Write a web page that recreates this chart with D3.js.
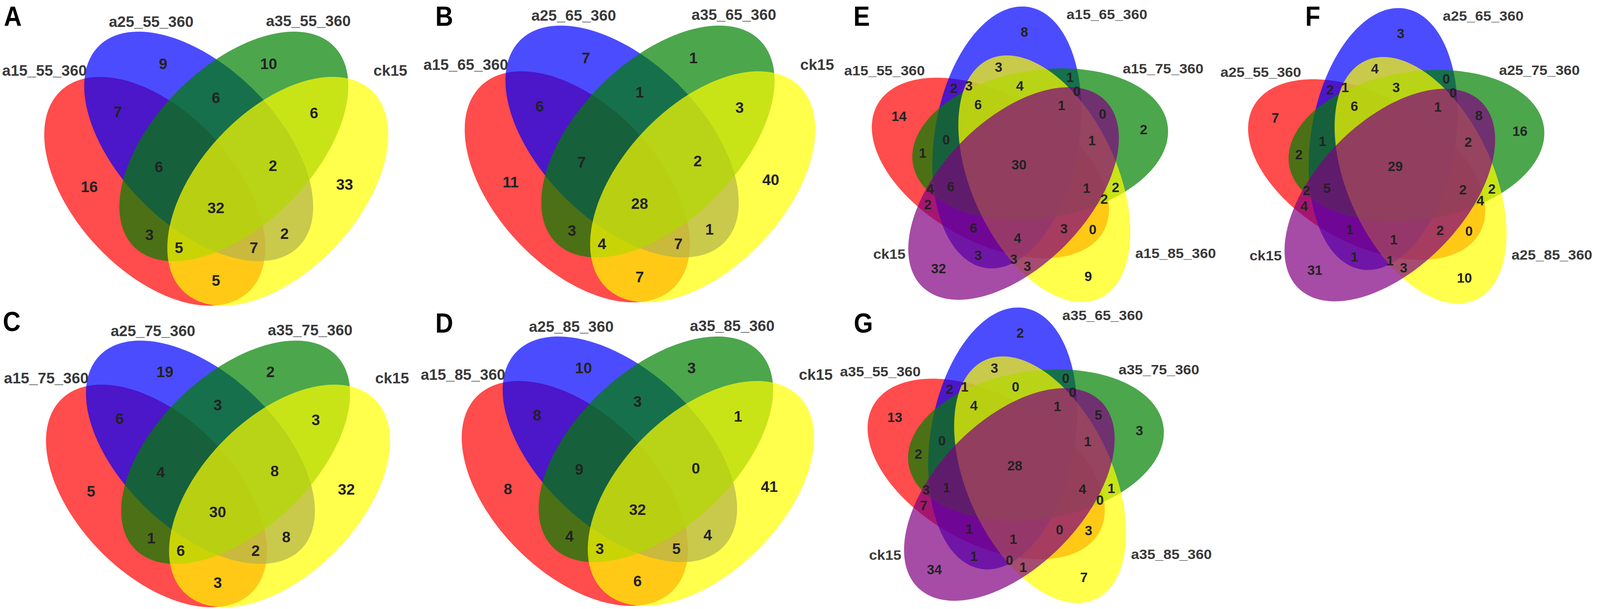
<!DOCTYPE html>
<html>
<head>
<meta charset="utf-8">
<script src="https://cdn.jsdelivr.net/npm/d3@7/dist/d3.min.js"></script>
<style>
  html, body { margin: 0; padding: 0; background: #fff; overflow: hidden; }
  svg { display: block; }
  text { font-family: "Liberation Sans", Arial, sans-serif; }
</style>
</head>
<body>
<svg id="fig"></svg>
<script>
// ---- data -------------------------------------------------------------
// 4-set regions, set order: 0 red, 1 blue, 2 green, 3 yellow
var quadKeys = ["0","1","2","3","01","12","23","03","02","13","012","123","023","013","0123"];
var valuesA = [16, 9, 10, 33, 7, 6, 6, 5, 3, 2, 6, 2, 5, 7, 32];
var valuesB = [11, 7, 1, 40, 6, 1, 3, 7, 3, 1, 7, 2, 4, 7, 28];
var valuesC = [5, 19, 2, 32, 6, 3, 3, 3, 1, 8, 4, 8, 6, 2, 30];
var valuesD = [8, 10, 3, 41, 8, 3, 1, 6, 4, 4, 9, 0, 3, 5, 32];

var setsA = ["a15_55_360", "a25_55_360", "a35_55_360", "ck15"];
var setsB = ["a15_65_360", "a25_65_360", "a35_65_360", "ck15"];
var setsC = ["a15_75_360", "a25_75_360", "a35_75_360", "ck15"];
var setsD = ["a15_85_360", "a25_85_360", "a35_85_360", "ck15"];

// 5-set regions, set order: 0 red, 1 blue, 2 green, 3 yellow, 4 purple
var quintKeys = ["0","1","2","3","4",
  "01","12","23","34","04",
  "02","13","24","03","14",
  "123","234","034","014","012",
  "013","124","023","134","024",
  "0123","1234","0234","0134","0124",
  "01234"];
var valuesE = [14, 8, 2, 9, 32,  2, 1, 2, 3, 2,  1, 3, 0, 0, 3,  4, 1, 3, 6, 0,  3, 0, 2, 3, 4,  6, 1, 1, 4, 6,  30];
var valuesF = [7, 3, 16, 10, 31,  2, 0, 2, 3, 4,  2, 4, 8, 0, 1,  3, 2, 2, 1, 1,  1, 0, 4, 1, 2,  6, 1, 2, 1, 5,  29];
var valuesG = [13, 2, 3, 7, 34,  2, 0, 1, 1, 7,  2, 3, 5, 3, 1,  0, 1, 0, 1, 0,  1, 0, 0, 0, 3,  4, 1, 4, 1, 1,  28];

var setsE = ["a15_55_360", "a15_65_360", "a15_75_360", "a15_85_360", "ck15"];
var setsF = ["a25_55_360", "a25_65_360", "a25_75_360", "a25_85_360", "ck15"];
var setsG = ["a35_55_360", "a35_65_360", "a35_75_360", "a35_85_360", "ck15"];

var colours = ["#ff0000", "#0000ff", "#008000", "#ffff00", "#800080"];

// ---- layout templates (template px, relative to diagram centre) --------
var quadShape = [
  {x: -175, y: 60, a: 372, b: 215, rot: 41},
  {x: -50, y: -55, a: 384, b: 212, rot: 39.5},
  {x: 50, y: -55, a: 384, b: 212, rot: -39.5},
  {x: 175, y: 60, a: 372, b: 215, rot: -41}
];
var quadLabelPos = [
  {x: -368, y: -250, anchor: "end"},
  {x: -185, y: -375, anchor: "middle"},
  {x: 262, y: -377, anchor: "middle"},
  {x: 447, y: -250, anchor: "start"}
];

// five ellipses turned by 72 degrees each; lobe0 = direction of the red lobe
var q5 = {A: 339, b: 190, d: 76, phi: -25, psi: 10, lobe0: 198};
var quintShape = d3.range(5).map(function(i) {
  var th = q5.lobe0 + 72 * i, r = (th + q5.phi) * Math.PI / 180;
  return {x: q5.d * Math.cos(r), y: q5.d * Math.sin(r), a: q5.A, b: q5.b, rot: th + q5.psi};
});
var quintLabelPos = [
  {x: -248, y: -241, anchor: "end"},
  {x: 125, y: -385, anchor: "start"},
  {x: 273, y: -246, anchor: "start"},
  {x: 306, y: 227, anchor: "start"},
  {x: -299, y: 229, anchor: "end"}
];

var panels = [
  {letter: "A", lx: 11, ly: 66, cx: 615, cy: 430, sx: 1, sy: 1, kind: 4, sets: setsA, values: valuesA},
  {letter: "B", lx: 1238, ly: 66, cx: 1820, cy: 418, sx: 1.019, sy: 1.01, kind: 4, sets: setsB, values: valuesB},
  {letter: "C", lx: 8, ly: 848, cx: 620, cy: 1212, sx: 1, sy: 0.973, kind: 4, sets: setsC, values: valuesC},
  {letter: "D", lx: 1238, ly: 852, cx: 1814, cy: 1205, sx: 1.024, sy: 0.983, kind: 4, sets: setsD, values: valuesD},
  {letter: "E", lx: 2427, ly: 66, cx: 2898, cy: 421, sx: 1.08, sy: 1, kind: 5, sets: setsE, values: valuesE},
  {letter: "F", lx: 3712, ly: 66, cx: 3968, cy: 425, sx: 1.08, sy: 1, kind: 5, sets: setsF, values: valuesF},
  {letter: "G", lx: 2428, ly: 852, cx: 2886, cy: 1192, sx: 1.08, sy: 1, kind: 5, sets: setsG, values: valuesG}
];

// ---- geometry helpers ---------------------------------------------------
function ellipsePoints(s) {
  var r = s.rot * Math.PI / 180;
  return d3.range(0, 360, 2).map(function(t) {
    var a = t * Math.PI / 180, u = s.a * Math.cos(a), v = s.b * Math.sin(a);
    return [s.x + u * Math.cos(r) - v * Math.sin(r), s.y + u * Math.sin(r) + v * Math.cos(r)];
  });
}

// label point of every region: the grid point farthest from any outline
function regionPoles(shapes, step) {
  var best = {};
  for (var y = -450; y <= 450; y += step) {
    for (var x = -520; x <= 520; x += step) {
      var key = "", margin = Infinity;
      shapes.forEach(function(s, i) {
        var r = s.rot * Math.PI / 180, dx = x - s.x, dy = y - s.y;
        var u = dx * Math.cos(r) + dy * Math.sin(r), v = -dx * Math.sin(r) + dy * Math.cos(r);
        var F = Math.sqrt((u / s.a) * (u / s.a) + (v / s.b) * (v / s.b));
        if (F < 1) key += i;
        var g = Math.hypot(u / (s.a * s.a), v / (s.b * s.b)) / Math.max(F, 1e-9);
        var dist = F < 1e-6 ? s.b : Math.abs(F - 1) / g;
        margin = Math.min(margin, dist);
      });
      if (!key) continue;
      if (!best[key] || margin > best[key].m) best[key] = {x: x, y: y, m: margin};
    }
  }
  return best;
}

var poles4 = regionPoles(quadShape, 3);
var poles5 = regionPoles(quintShape, 2);

// ---- drawing --------------------------------------------------------------
// the window may be narrower than the figure, so draw in a fixed viewBox
var W = 4550, H = 1560;
var svg = d3.select("#fig")
  .attr("viewBox", "0 0 " + W + " " + H)
  .attr("preserveAspectRatio", "none")
  .attr("width", window.innerWidth || W)
  .attr("height", window.innerHeight || H);
svg.append("rect").attr("width", W).attr("height", H).attr("fill", "#fff");

panels.forEach(function(p) {
  var xScale = d3.scaleLinear().domain([0, 100]).range([p.cx, p.cx + 100 * p.sx]);
  var yScale = d3.scaleLinear().domain([0, 100]).range([p.cy, p.cy + 100 * p.sy]);
  var shapes = p.kind === 4 ? quadShape : quintShape;
  var keys = p.kind === 4 ? quadKeys : quintKeys;
  var labelPos = p.kind === 4 ? quadLabelPos : quintLabelPos;
  var poles = p.kind === 4 ? poles4 : poles5;
  var numSize = p.kind === 4 ? 38 : 35, numStretch = p.kind === 4 ? 1.14 : 1.1;
  var catSize = p.kind === 4 ? 38 : 35, catStretch = p.kind === 4 ? 1.14 : 1.18;

  var line = d3.line().x(function(d) { return xScale(d[0]); }).y(function(d) { return yScale(d[1]); })
    .curve(d3.curveLinearClosed);

  var g = svg.append("g").attr("class", "panel-" + p.letter);

  g.selectAll("path.set").data(shapes).join("path")
    .attr("class", "set")
    .attr("d", function(s) { return line(ellipsePoints(s)); })
    .attr("fill", function(s, i) { return colours[i]; })
    .attr("fill-opacity", 0.7)
    .attr("stroke", "none");

  var regions = keys.map(function(k, i) { return {key: k, value: p.values[i]}; })
    .filter(function(d) { return poles[d.key]; });

  g.selectAll("text.count").data(regions).join("text")
    .attr("class", "count")
    .attr("transform", function(d) {
      var q = poles[d.key];
      return "translate(" + xScale(q.x) + "," + yScale(q.y) + ") scale(" + numStretch + ",1)";
    })
    .attr("text-anchor", "middle")
    .attr("dy", "0.36em")
    .attr("font-size", numSize)
    .attr("font-weight", "bold")
    .attr("fill", "#222")
    .text(function(d) { return d.value; });

  g.selectAll("text.cat").data(p.sets).join("text")
    .attr("class", "cat")
    .attr("transform", function(d, i) {
      var q = labelPos[i];
      return "translate(" + xScale(q.x) + "," + yScale(q.y) + ") scale(" + catStretch + ",1)";
    })
    .attr("text-anchor", function(d, i) { return labelPos[i].anchor; })
    .attr("dy", "0.36em")
    .attr("font-size", catSize)
    .attr("font-weight", "bold")
    .attr("fill", "#3a3a3a")
    .text(function(d) { return d; });

  svg.append("text")
    .attr("x", p.lx).attr("y", p.ly)
    .attr("font-size", 70).attr("font-weight", "bold").attr("fill", "#000")
    .text(p.letter);
});
</script>
</body>
</html>
